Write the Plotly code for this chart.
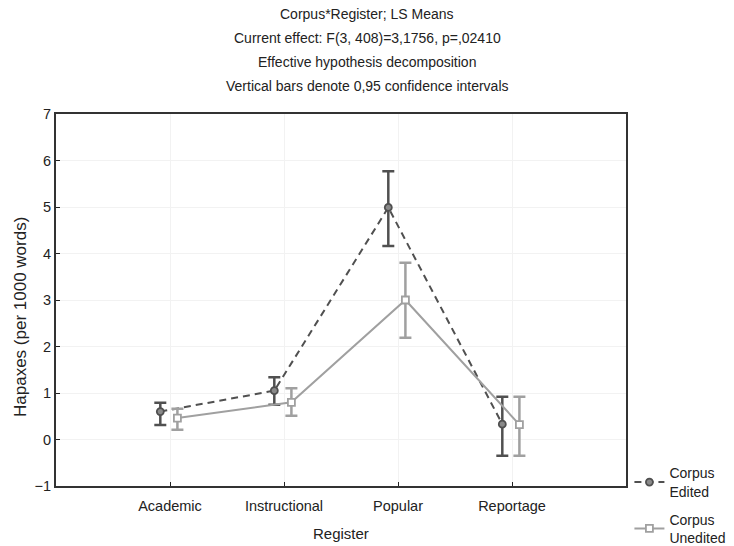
import plotly.graph_objects as go

# LS means of hapaxes per 1000 words, by register and corpus
registers = ["Academic", "Instructional", "Popular", "Reportage"]
edited_mean = [0.60, 1.05, 4.99, 0.33]
edited_lo = [0.31, 0.75, 4.16, -0.35]
edited_hi = [0.79, 1.34, 5.77, 0.92]
unedited_mean = [0.46, 0.80, 3.00, 0.32]
unedited_lo = [0.21, 0.51, 2.19, -0.35]
unedited_hi = [0.66, 1.10, 3.80, 0.92]
y_ticks = [-1, 0, 1, 2, 3, 4, 5, 6, 7]
title_lines = [
    "Corpus*Register; LS Means",
    "Current effect: F(3, 408)=3,1756, p=,02410",
    "Effective hypothesis decomposition",
    "Vertical bars denote 0,95 confidence intervals",
]

FONT = "Liberation Sans, Arial, sans-serif"
TXT = "#222222"
pos = list(range(len(registers)))

def series(name, group, mean, lo, hi, shift, color, dash, symbol, fill, size):
    return go.Scatter(
        x=[p + shift for p in pos],
        y=mean,
        name=name,
        legendgroup=group,
        mode="lines+markers",
        line=dict(color=color, width=2, dash=dash),
        marker=dict(symbol=symbol, size=size, color=fill,
                    line=dict(color=color, width=1.8)),
        error_y=dict(type="data", symmetric=False,
                     array=[h - m for h, m in zip(hi, mean)],
                     arrayminus=[m - l for m, l in zip(mean, lo)],
                     color=color, thickness=2.5, width=6),
    )

fig = go.Figure()
fig.add_trace(series("Corpus<br>Edited", "ed", edited_mean, edited_lo, edited_hi,
                     -0.085, "#505050", "7px,5px", "circle", "#8a8a8a", 7))
fig.add_trace(series("Corpus<br>Unedited", "un", unedited_mean, unedited_lo, unedited_hi,
                     0.065, "#a0a0a0", "solid", "square", "white", 7))

fig.update_layout(
    width=734, height=546,
    margin=dict(l=56, r=108, t=114, b=60, autoexpand=False),
    paper_bgcolor="white", plot_bgcolor="white",
    font=dict(family=FONT, size=14, color=TXT),
    showlegend=True,
    legend=dict(x=1.006, y=0.077, xanchor="left", yanchor="top",
                bgcolor="rgba(0,0,0,0)", font=dict(size=14),
                traceorder="grouped", tracegroupgap=7, itemwidth=30),
)
fig.update_xaxes(
    range=[-1, 4], tickmode="array", tickvals=pos, ticktext=registers,
    ticks="inside", ticklen=4, tickcolor=TXT,
    showline=True, linecolor="#333333", linewidth=2, mirror=True,
    showgrid=True, gridcolor="#f2f2f2", gridwidth=1, zeroline=False,
    tickfont=dict(size=14.5), ticklabelstandoff=6,
)
fig.update_yaxes(
    range=[-1, 7], tickmode="array", tickvals=y_ticks,
    ticks="inside", ticklen=4, tickcolor=TXT,
    showline=True, linecolor="#333333", linewidth=2, mirror=True,
    showgrid=True, gridcolor="#f2f2f2", gridwidth=1, zeroline=False,
    tickfont=dict(size=14.5),
)

# Axis titles placed as free text
fig.add_annotation(
    text="Register", xref="paper", yref="paper", x=0.5, y=0,
    xanchor="center", yanchor="middle", yshift=-47, showarrow=False,
    font=dict(family=FONT, size=15, color=TXT),
)
fig.add_annotation(
    text="Hapaxes (per 1000 words)", xref="paper", yref="paper", x=0, y=0.5,
    xanchor="center", yanchor="middle", xshift=-36, yshift=-17,
    textangle=-90, showarrow=False,
    font=dict(family=FONT, size=17, color=TXT),
)

# Four-line heading centred over the whole figure
for i, line in enumerate(title_lines):
    fig.add_annotation(
        text=line, xref="paper", yref="paper",
        x=(367 - 56) / 570, y=1, xanchor="center", yanchor="middle",
        yshift=100 - 24 * i, showarrow=False,
        font=dict(family=FONT, size=14, color=TXT),
    )

fig.write_html("out.html")
